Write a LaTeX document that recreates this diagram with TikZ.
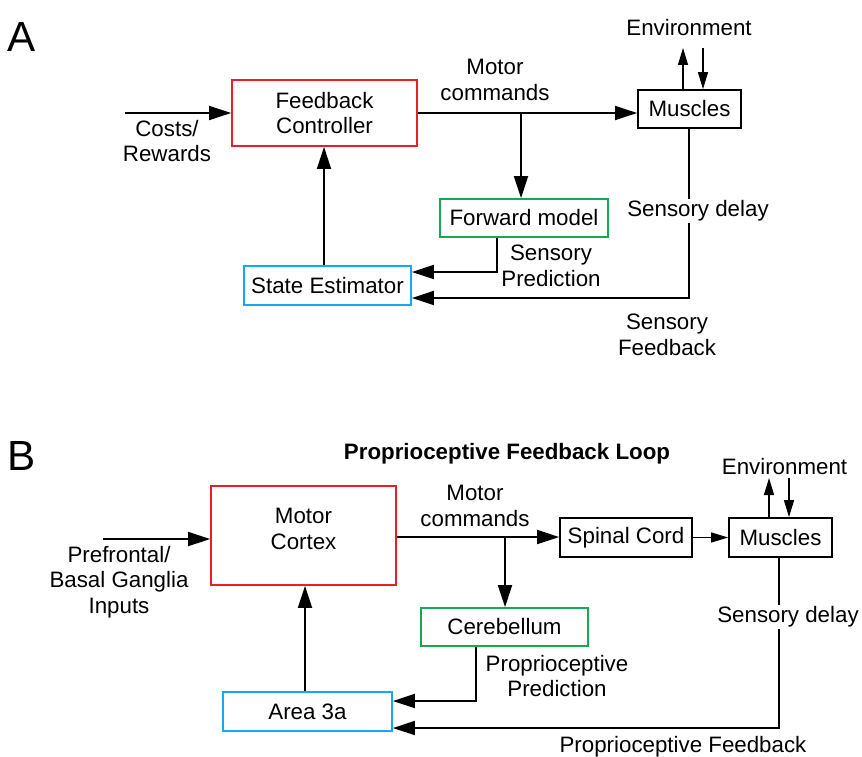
\documentclass[tikz,border=0pt]{standalone}
\usepackage{fontspec}
\setmainfont{Liberation Sans}
\usetikzlibrary{arrows.meta}
\definecolor{boxred}{RGB}{235,30,40}
\definecolor{boxgreen}{RGB}{20,170,80}
\definecolor{boxblue}{RGB}{20,170,235}

\begin{document}
\begin{tikzpicture}[x=0.02cm, y=-0.02cm,
    every node/.style={font=\fontsize{12.7}{14.6}\selectfont, align=center},
    blk/.style={draw, line width=1pt, inner sep=0pt},
    arr/.style={line width=1.1pt, -{Triangle[length=0.44cm, width=0.28cm]}},
    sarr/.style={line width=0.7pt, -{Triangle[length=0.34cm, width=0.2cm]}},
    panel/.style={font=\fontsize{24}{26}\selectfont}]
  \useasboundingbox (0,0) rectangle (862,757);

  % ---- A ----
  \node [panel] (lblA) at (22,37) {A};
  \node [blk, draw=boxred, minimum width=3.7cm, minimum height=1.32cm] (fc) at (324.5,113) {Feedback\\Controller};
  \node [blk, minimum width=2.06cm, minimum height=0.76cm] (musA) at (689.5,109) {Muscles};
  \node [blk, draw=boxgreen, minimum width=3.36cm, minimum height=0.76cm] (fwd) at (524,218) {Forward model};
  \node [blk, draw=boxblue, minimum width=3.34cm, minimum height=0.78cm] (se) at (327.5,285.5) {State Estimator};
  \node (envA) at (689,28) {Environment};
  \coordinate (costs) at (125,113);
  \coordinate (brA) at (521,113);
  \coordinate (predA) at (497,272);
  \coordinate (fbA) at (689,298);
  \coordinate (envupA) at (683,48);
  \coordinate (envdnA) at (703,48);

  \draw [arr] (costs) -- (fc.west);
  \draw [arr] (fc.east) -- (fc.east -| musA.west);
  \draw [arr] (brA) -- (brA |- fwd.north);
  \draw [arr] (predA |- fwd.south) -- (predA) -- (predA -| se.east);
  \draw [arr] (se.north -| 324,0) -- (fc.south -| 324,0);
  \draw [arr] (fbA |- musA.south) -- (fbA) -- (fbA -| se.east);
  \draw [sarr] (envupA |- musA.north) -- (envupA);
  \draw [sarr] (envdnA) -- (envdnA |- musA.north);

  \node (costsl) at (167,141) {Costs/\\Rewards};
  \node (motA) at (495,80) {Motor\\commands};
  \node (spred) at (551,266) {Sensory\\Prediction};
  \node [fill=white, inner sep=1pt] (dlyA) at (698,211) {Sensory delay};
  \node (sfb) at (667,335) {Sensory\\Feedback};

  % ---- B ----
  \node [panel] (lblB) at (22,456) {B};
  \node [font=\bfseries\fontsize{12.7}{14.6}\selectfont] (ttl) at (507,454) {Proprioceptive Feedback Loop};
  \node [blk, draw=boxred, minimum width=3.7cm, minimum height=1.98cm] (mc) at (303.5,535.5) {};
  \node (mctxt) at (303.5,529) {Motor\\Cortex};
  \node [blk, minimum width=2.64cm, minimum height=0.78cm] (sc) at (626,537.5) {Spinal Cord};
  \node [blk, minimum width=2.06cm, minimum height=0.78cm] (musB) at (780.5,537.5) {Muscles};
  \node [blk, draw=boxgreen, minimum width=3.34cm, minimum height=0.76cm] (cb) at (504.5,627) {Cerebellum};
  \node [blk, draw=boxblue, minimum width=3.38cm, minimum height=0.78cm] (a3) at (307.5,711.5) {Area 3a};
  \node (envB) at (784.5,467) {Environment};
  \coordinate (pfc) at (103,539);
  \coordinate (brB) at (505,537);
  \coordinate (predB) at (476,701);
  \coordinate (fbB) at (779,728);
  \coordinate (envupB) at (769,478);
  \coordinate (envdnB) at (789,478);

  \draw [arr] (pfc) -- (pfc -| mc.west);
  \draw [arr] (brB -| mc.east) -- (brB -| sc.west);
  \draw [sarr] (sc.east) -- (musB.west);
  \draw [arr] (brB) -- (brB |- cb.north);
  \draw [arr] (predB |- cb.south) -- (predB) -- (predB -| a3.east);
  \draw [arr] (a3.north -| 305,0) -- (mc.south -| 305,0);
  \draw [arr] (fbB |- musB.south) -- (fbB) -- (fbB -| a3.east);
  \draw [sarr] (envupB |- musB.north) -- (envupB);
  \draw [sarr] (envdnB) -- (envdnB |- musB.north);

  \node (pfcl) at (119,582) {Prefrontal/\\Basal Ganglia\\Inputs};
  \node (motB) at (475,506) {Motor\\commands};
  \node (ppred) at (557,676) {Proprioceptive\\Prediction};
  \node [fill=white, inner sep=1pt] (dlyB) at (788,617) {Sensory delay};
  \node (pfb) at (683,747) {Proprioceptive Feedback};
\end{tikzpicture}
\end{document}
